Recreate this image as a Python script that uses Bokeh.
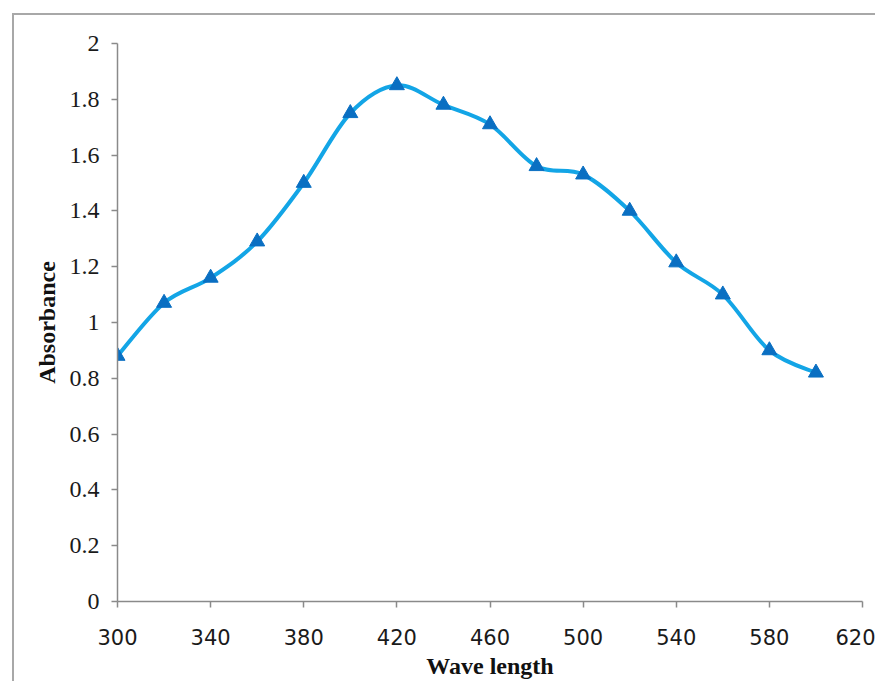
from bokeh.plotting import figure
from bokeh.embed import file_html
from bokeh.resources import INLINE
from bokeh.models import FixedTicker, ColumnDataSource, Range1d
import numpy as np

wavelength = [300, 320, 340, 360, 380, 400, 420, 440, 460, 480, 500, 520, 540, 560, 580, 600]
absorbance = [0.88, 1.07, 1.16, 1.29, 1.50, 1.75, 1.85, 1.78, 1.71, 1.56, 1.53, 1.40, 1.215, 1.10, 0.90, 0.82]
x_ticks = [300, 340, 380, 420, 460, 500, 540, 580, 620]
y_ticks = [0, 0.2, 0.4, 0.6, 0.8, 1.0, 1.2, 1.4, 1.6, 1.8, 2.0]

p = figure(width=863, height=668, output_backend="svg", toolbar_location=None,
           x_range=Range1d(300, 620), y_range=Range1d(0, 2),
           min_border_left=103, min_border_right=15, min_border_top=28, min_border_bottom=82)
p.margin = (13, 0, 0, 12)
p.styles = {"border-top": "2px solid #a8a8a8", "border-left": "2px solid #a8a8a8"}
p.outline_line_color = None
p.xgrid.grid_line_color = None
p.ygrid.grid_line_color = None
p.background_fill_color = "white"
p.border_fill_color = "white"

axis_color = "#8a8a8a"
for ax in (p.xaxis[0], p.yaxis[0]):
    ax.axis_line_color = axis_color
    ax.axis_line_width = 1.5
    ax.major_tick_line_color = axis_color
    ax.major_tick_line_width = 1.5
    ax.major_tick_in = 0
    ax.major_tick_out = 6
    ax.minor_tick_line_color = None
    ax.major_label_text_color = "#1a1a1a"
    ax.axis_label_text_color = "#111111"
    ax.axis_label_text_font = "Liberation Serif"
    ax.axis_label_text_font_style = "bold"
    ax.axis_label_text_font_size = "24px"

p.xaxis.ticker = FixedTicker(ticks=x_ticks)
p.yaxis.ticker = FixedTicker(ticks=y_ticks)
p.yaxis.major_label_overrides = {t: ("%g" % t) for t in y_ticks}
p.xaxis.major_label_text_font = "DejaVu Sans"
p.xaxis.major_label_text_font_size = "21px"
p.xaxis.major_label_standoff = 21
p.yaxis.major_label_text_font = "Liberation Serif"
p.yaxis.major_label_text_font_size = "24px"
p.yaxis.major_label_standoff = 12
p.xaxis.axis_label = "Wave length"
p.yaxis.axis_label = "Absorbance"
p.xaxis.axis_label_standoff = 5
p.yaxis.axis_label_standoff = 7

# smooth curve (Catmull-Rom style bezier segments through data points)
xs = np.array(wavelength, dtype=float)
ys = np.array(absorbance, dtype=float)
n = len(xs)
seg = dict(x0=[], y0=[], x1=[], y1=[], cx0=[], cy0=[], cx1=[], cy1=[])
for i in range(n - 1):
    im1 = max(i - 1, 0)
    ip2 = min(i + 2, n - 1)
    seg["x0"].append(xs[i]); seg["y0"].append(ys[i])
    seg["x1"].append(xs[i + 1]); seg["y1"].append(ys[i + 1])
    seg["cx0"].append(xs[i] + (xs[i + 1] - xs[im1]) / 6)
    seg["cy0"].append(ys[i] + (ys[i + 1] - ys[im1]) / 6)
    seg["cx1"].append(xs[i + 1] - (xs[ip2] - xs[i]) / 6)
    seg["cy1"].append(ys[i + 1] - (ys[ip2] - ys[i]) / 6)
p.bezier(x0="x0", y0="y0", x1="x1", y1="y1", cx0="cx0", cy0="cy0", cx1="cx1", cy1="cy1",
         source=ColumnDataSource(seg), line_color="#13a5e6", line_width=4)

p.scatter(wavelength, absorbance, marker="triangle", size=15,
          fill_color="#0a6fc2", line_color="#0a6fc2")

open("out.html", "w").write(file_html(p, INLINE))
